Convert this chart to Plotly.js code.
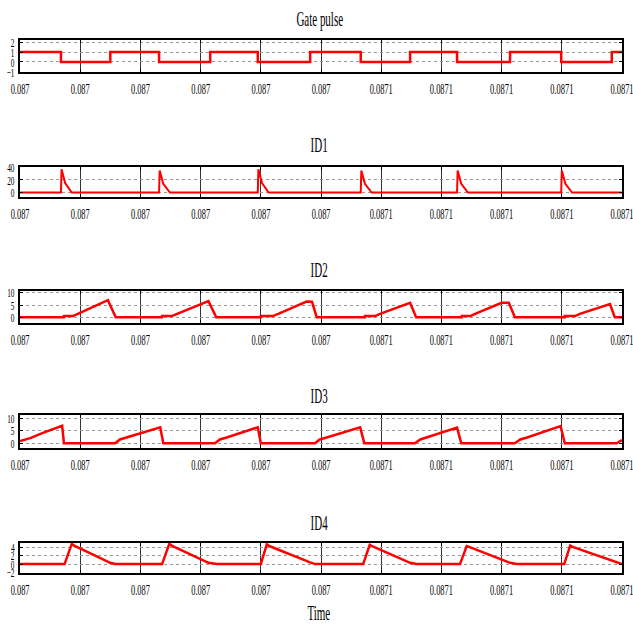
<!DOCTYPE html>
<html>
<head>
<meta charset="utf-8">
<script src="https://cdn.plot.ly/plotly-3.0.1.min.js"></script>
<style>
  html, body { margin: 0; padding: 0; background: #fff; }
  #chart { width: 633px; height: 626px; }
</style>
</head>
<body>
<div id="chart"></div>
<script>
// ---- Data (time in seconds, currents in A) ----
const panelTitles = ['Gate pulse', 'ID1', 'ID2', 'ID3', 'ID4'];
const xAxisTitle = 'Time';

const xTickVals = [0.08700, 0.08701, 0.08702, 0.08703, 0.08704, 0.08705,
                   0.08706, 0.08707, 0.08708, 0.08709, 0.08710];
const xTickText = ['0.087', '0.087', '0.087', '0.087', '0.087', '0.087',
                   '0.0871', '0.0871', '0.0871', '0.0871', '0.0871'];

const gateTicks = [-1, 0, 1, 2];
const id1Ticks = [0, 20, 40];
const id2Ticks = [0, 5, 10];
const id3Ticks = [0, 5, 10];
const id4Ticks = [-2, 0, 2, 4];

const gateTime = [0.0870000, 0.0870068, 0.0870068, 0.0870150, 0.0870150, 0.0870231,
  0.0870231, 0.0870316, 0.0870316, 0.0870395, 0.0870395, 0.0870482, 0.0870482,
  0.0870566, 0.0870566, 0.0870648, 0.0870648, 0.0870726, 0.0870726, 0.0870814,
  0.0870814, 0.0870899, 0.0870899, 0.0870983, 0.0870983, 0.0871000];
const gateValue = [1, 1, 0, 0, 1, 1, 0, 0, 1, 1, 0, 0, 1, 1, 0, 0, 1, 1, 0, 0, 1, 1, 0, 0, 1, 1];

const id1Time = [0.0870000, 0.0870068, 0.0870069, 0.0870072, 0.0870075, 0.0870086,
  0.0870231, 0.0870232, 0.0870235, 0.0870238, 0.0870249,
  0.0870395, 0.0870396, 0.0870399, 0.0870402, 0.0870413,
  0.0870566, 0.0870567, 0.0870570, 0.0870573, 0.0870584,
  0.0870726, 0.0870727, 0.0870730, 0.0870733, 0.0870744,
  0.0870899, 0.0870900, 0.0870903, 0.0870906, 0.0870917, 0.0871000];
const id1Value = [0, 0, 37, 24, 15, 0,
  0, 35, 23, 14, 0,
  0, 37, 24, 15, 0,
  0, 35, 23, 14, 0,
  0, 35, 23, 14, 0,
  0, 35, 23, 14, 0, 0];

const id2Time = [0.0870000,
  0.0870073, 0.0870073, 0.0870088, 0.0870096, 0.0870146, 0.0870159,
  0.0870236, 0.0870236, 0.0870252, 0.0870261, 0.0870313, 0.0870326,
  0.0870400, 0.0870400, 0.0870420, 0.0870429, 0.0870476, 0.0870485, 0.0870493,
  0.0870573, 0.0870573, 0.0870590, 0.0870598, 0.0870648, 0.0870658,
  0.0870734, 0.0870734, 0.0870748, 0.0870756, 0.0870800, 0.0870812, 0.0870822,
  0.0870905, 0.0870905, 0.0870922, 0.0870930, 0.0870980, 0.0870988, 0.0871000];
const id2Value = [0,
  0, 0.5, 0.5, 1.4, 7.0, 0,
  0, 0.5, 0.5, 1.4, 6.6, 0,
  0, 0.5, 0.5, 1.4, 6.4, 6.3, 0,
  0, 0.5, 0.5, 1.4, 5.9, 0,
  0, 0.5, 0.5, 1.4, 5.9, 5.9, 0,
  0, 0.5, 0.5, 1.4, 5.4, 0, 0];

const id3Time = [0.0870000, 0.0870017, 0.0870037, 0.0870070, 0.0870073,
  0.0870158, 0.0870166, 0.0870176, 0.0870233, 0.0870238,
  0.0870324, 0.0870332, 0.0870342, 0.0870395, 0.0870400,
  0.0870490, 0.0870498, 0.0870508, 0.0870565, 0.0870572,
  0.0870656, 0.0870665, 0.0870674, 0.0870726, 0.0870733,
  0.0870822, 0.0870831, 0.0870841, 0.0870898, 0.0870905,
  0.0870991, 0.0871000];
const id3Value = [0.9, 2.0, 4.0, 6.9, 0,
  0, 1.5, 2.2, 6.3, 0,
  0, 1.5, 2.2, 6.3, 0,
  0, 1.5, 2.2, 6.3, 0,
  0, 1.5, 2.2, 6.2, 0,
  0, 1.5, 2.2, 6.8, 0,
  0, 1.3];

const id4Time = [0.0870000,
  0.0870074, 0.0870086, 0.0870090, 0.0870150, 0.0870158,
  0.0870236, 0.0870248, 0.0870252, 0.0870313, 0.0870327,
  0.0870400, 0.0870410, 0.0870414, 0.0870482, 0.0870490,
  0.0870570, 0.0870581, 0.0870585, 0.0870648, 0.0870659,
  0.0870731, 0.0870742, 0.0870746, 0.0870814, 0.0870825,
  0.0870904, 0.0870914, 0.0870918, 0.0871000];
const id4Value = [0,
  0, 4.8, 4.4, 0.3, 0,
  0, 4.8, 4.4, 0.3, 0,
  0, 4.7, 4.3, 0.4, 0,
  0, 4.6, 4.3, 0.3, 0,
  0, 4.3, 4.1, 0.3, 0,
  0, 4.4, 4.1, 0];

// ---- Styling / layout ----
const FONT = 'Liberation Serif, Times New Roman, serif';
const RED = '#ff0000';

const series = [
  {x: gateTime, y: gateValue, ticks: gateTicks, range: [-1, 2.2], dom: [0.8850, 0.9361], w: 2.5},
  {x: id1Time, y: id1Value, ticks: id1Ticks, range: [-7, 40.5], dom: [0.6853, 0.7332], w: 2},
  {x: id2Time, y: id2Value, ticks: id2Ticks, range: [-2.2, 10.7], dom: [0.4845, 0.5351], w: 2.5},
  {x: id3Time, y: id3Value, ticks: id3Ticks, range: [-2, 11.2], dom: [0.2839, 0.3371], w: 2.5},
  {x: id4Time, y: id4Value, ticks: id4Ticks, range: [-2.2, 5.1], dom: [0.0842, 0.1331], w: 2.5}
];
const titleY = [0.9712, 0.7684, 0.5687, 0.3690, 0.1661];

const traces = [];
const layout = {
  width: 633, height: 626,
  margin: {l: 20, r: 11, t: 0, b: 0},
  paper_bgcolor: '#fff', plot_bgcolor: '#fff',
  showlegend: false,
  font: {family: FONT, color: '#000'},
  annotations: []
};

const tickSelectors = [];
series.forEach((s, i) => {
  const n = i === 0 ? '' : String(i + 1);
  tickSelectors.push('g.x' + n + 'tick text', 'g.y' + n + 'tick text');
  traces.push({
    type: 'scatter', mode: 'lines', x: s.x, y: s.y,
    xaxis: 'x' + n, yaxis: 'y' + n,
    line: {color: RED, width: s.w},
    hoverinfo: 'skip'
  });
  layout['xaxis' + n] = {
    anchor: 'y' + n, domain: [0, 1],
    range: [0.087, 0.0871],
    tickmode: 'array', tickvals: xTickVals, ticktext: xTickText,
    showline: true, mirror: 'ticks', linecolor: '#000', linewidth: 2,
    ticks: 'inside', ticklen: 3, tickcolor: '#000', tickwidth: 1,
    showgrid: true, gridcolor: '#333', gridwidth: 1,
    zeroline: false,
    ticklabelstandoff: 2,
    ticklabeloverflow: 'allow',
    tickfont: {family: FONT, size: 15, color: '#000'}
  };
  layout['yaxis' + n] = {
    anchor: 'x' + n, domain: s.dom,
    range: s.range,
    tickmode: 'array', tickvals: s.ticks,
    showline: true, mirror: 'ticks', linecolor: '#000', linewidth: 2,
    ticks: 'inside', ticklen: 3, tickcolor: '#000', tickwidth: 1,
    showgrid: true, gridcolor: '#999', gridwidth: 1, griddash: 'dot',
    zeroline: false,
    ticklabelstandoff: 1,
    ticklabeloverflow: 'allow',
    tickfont: {family: FONT, size: 13, color: '#000'}
  };
  layout.annotations.push({
    text: panelTitles[i], xref: 'paper', yref: 'paper',
    x: 0.4967, y: titleY[i], xanchor: 'center', yanchor: 'middle',
    showarrow: false, font: {family: FONT, size: 22, color: '#000'}
  });
});
layout.annotations.push({
  text: xAxisTitle, xref: 'paper', yref: 'paper',
  x: 0.4967, y: 0.0208, xanchor: 'center', yanchor: 'middle',
  showarrow: false, font: {family: FONT, size: 22, color: '#000'}
});

// Narrow the glyphs horizontally to mimic the condensed serif of the original.
function condense(gd, selector, s) {
  gd.querySelectorAll(selector).forEach(t => {
    const g = document.createElementNS('http://www.w3.org/2000/svg', 'g');
    t.parentNode.insertBefore(g, t);
    g.appendChild(t);
    const bb = g.getBBox();
    const a = t.getAttribute('text-anchor') || 'start';
    const cx = a === 'end' ? bb.x + bb.width : (a === 'middle' ? bb.x + bb.width / 2 : bb.x);
    g.setAttribute('transform', `translate(${cx},0) scale(${s},1) translate(${-cx},0)`);
  });
}

const gd = document.getElementById('chart');
Plotly.newPlot(gd, traces, layout, {staticPlot: true, displayModeBar: false}).then(() => {
  condense(gd, tickSelectors.join(', '), 0.56);
  condense(gd, 'text.annotation-text', 0.5);
});
</script>
</body>
</html>
